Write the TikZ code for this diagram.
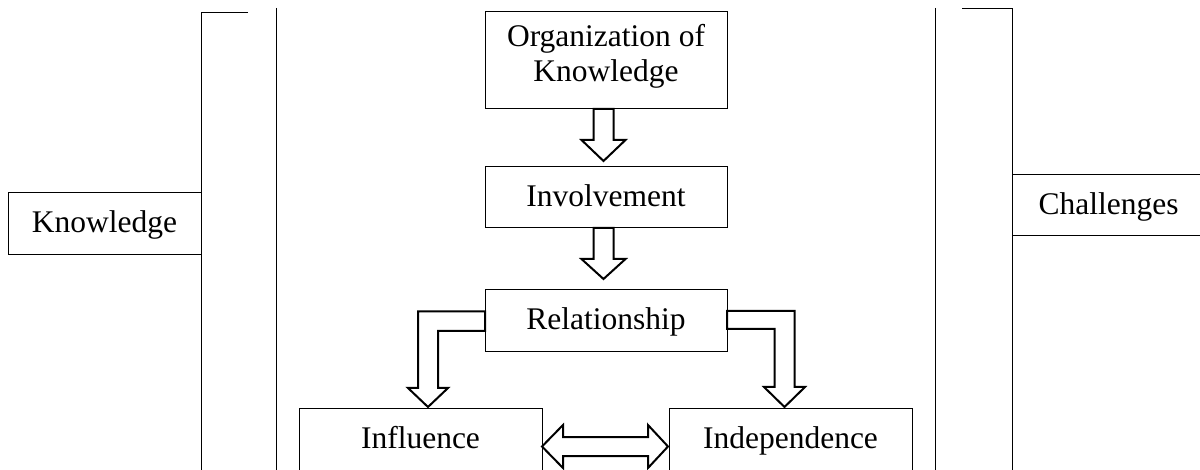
\documentclass[tikz,border=0pt]{standalone}
\usepackage{fontspec}
\setmainfont{Liberation Serif}
\usetikzlibrary{calc}
\tikzset{
  box/.style={draw, line width=1pt, inner sep=0pt, outer sep=0pt, align=center,
    font=\fontsize{31.5}{35}\selectfont, minimum height=62pt,
    text height=25.2pt, text depth=7.2pt},
  barrow/.style={draw, line width=2pt, line join=miter, fill=white},
  rule/.style={draw, line width=1pt}
}
\begin{document}
\begin{tikzpicture}[x=1pt,y=-1pt]
\clip (0,0) rectangle (1200,470);
\fill[white] (0,0) rectangle (1200,470);
% nodes
\node[box, minimum width=193pt] (know) at (104.5,224) {Knowledge};
\node[box, minimum width=242pt, minimum height=97pt, text height=50.2pt] (org) at (606,60.5) {Organization of\\Knowledge};
\node[box, minimum width=242pt, minimum height=61pt] (inv) at (606,197.5) {Involvement};
\node[box, minimum width=242pt] (rel) at (606,321) {Relationship};
\node[box, minimum width=243pt] (infl) at (420.5,439) {Influence};
\node[box, minimum width=243pt] (indep) at (790.5,439) {Independence};
\node[box, minimum width=193pt, minimum height=61pt] (chal) at (1108.5,205.5) {Challenges};
% rules / brackets
\coordinate (lbt) at (248,13);
\coordinate (lbc) at (know.east |- lbt);
\coordinate (lbb) at (know.east |- 0,471);
\draw[rule] (lbt) -- (lbc) -- (lbb);
\coordinate (l2t) at (276.5,8);
\coordinate (l2b) at (276.5,471);
\draw[rule] (l2t) -- (l2b);
\coordinate (r2t) at (935,8);
\coordinate (r2b) at (935,471);
\draw[rule] (r2t) -- (r2b);
\coordinate (rbt) at (962,9);
\coordinate (rbc) at (chal.west |- rbt);
\coordinate (rbb) at (chal.west |- 0,471);
\draw[rule] (rbt) -- (rbc) -- (rbb);
% straight block arrows
\draw[barrow] let \p1=(org.south), \p2=(inv.north) in
  (\x1-12.5pt,\y1) -- (\x1-12.5pt,\y2+27pt) -- (\x1-24.5pt,\y2+27pt) -- (\x1-2.5pt,\y2+6pt)
  -- (\x1+19.5pt,\y2+27pt) -- (\x1+7.5pt,\y2+27pt) -- (\x1+7.5pt,\y1) -- cycle;
\draw[barrow] let \p1=(inv.south), \p2=(rel.north) in
  (\x1-12.5pt,\y1) -- (\x1-12.5pt,\y2+31pt) -- (\x1-24.5pt,\y2+31pt) -- (\x1-2.5pt,\y2+11pt)
  -- (\x1+19.5pt,\y2+31pt) -- (\x1+7.5pt,\y2+31pt) -- (\x1+7.5pt,\y1) -- cycle;
% elbow block arrows
\draw[barrow] let \p1=(rel.west), \p2=(infl.north), \n1={\x2+7.5pt} in
  (\x1,\y1+9.5pt) -- (\n1-10pt,\y1+9.5pt) -- (\n1-10pt,\y2+20pt) -- (\n1-20pt,\y2+20pt)
  -- (\n1,\y2+1pt) -- (\n1+20pt,\y2+20pt) -- (\n1+10pt,\y2+20pt) -- (\n1+10pt,\y1-10pt)
  -- (\x1,\y1-10pt) -- cycle;
\draw[barrow] let \p1=(rel.east), \p2=(indep.north), \n1={\x2-6pt} in
  (\x1,\y1+10pt) -- (\n1+10pt,\y1+10pt) -- (\n1+10pt,\y2+21pt) -- (\n1+20.5pt,\y2+21pt)
  -- (\n1,\y2+1pt) -- (\n1-20.5pt,\y2+21pt) -- (\n1-10pt,\y2+21pt) -- (\n1-10pt,\y1-8pt)
  -- (\x1,\y1-8pt) -- cycle;
% double block arrow
\draw[barrow] let \p1=(infl.east), \p2=(indep.west), \n1={\y1-7.5pt} in
  (\x1,\n1) -- (\x1+21pt,\n1+21.5pt) -- (\x1+21pt,\n1+9.5pt) -- (\x2-21pt,\n1+9.5pt)
  -- (\x2-21pt,\n1+21.5pt) -- (\x2-1pt,\n1) -- (\x2-21pt,\n1-21.5pt) -- (\x2-21pt,\n1-9.5pt)
  -- (\x1+21pt,\n1-9.5pt) -- (\x1+21pt,\n1-21.5pt) -- cycle;
\end{tikzpicture}
\end{document}
